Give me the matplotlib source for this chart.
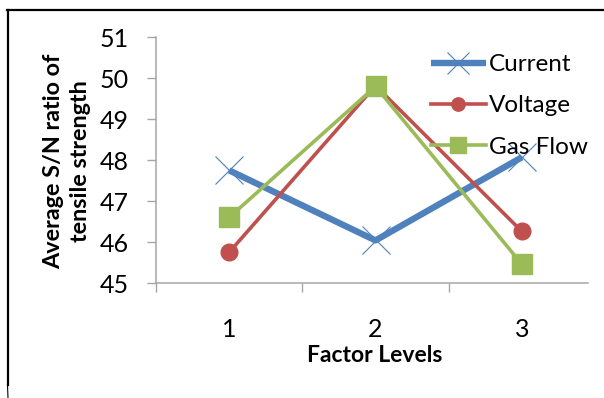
import matplotlib
matplotlib.use("Agg")
import matplotlib.pyplot as plt
from matplotlib.lines import Line2D
from matplotlib.ticker import FixedLocator

plt.rcParams['font.family'] = ['Lato', 'DejaVu Sans']

# Factor levels and average S/N ratios of tensile strength
levels = [1, 2, 3]
level_labels = ['1', '2', '3']
current = [47.75, 46.04, 48.07]
voltage = [45.75, 49.82, 46.26]
gas_flow = [46.60, 49.80, 45.46]
y_ticks = [45, 46, 47, 48, 49, 50, 51]

W, H = 604, 398
fig = plt.figure(figsize=(W / 100, H / 100), dpi=100)
fig.patch.set_facecolor('white')

left, right, top, bottom = 156, 595, 37.3, 283
ax = fig.add_axes([left / W, 1 - bottom / H, (right - left) / W, (bottom - top) / H])

blue, red, green = '#4F81BD', '#C0504D', '#9BBB59'
ax.plot(levels, current, color=blue, lw=4.6, marker='x', ms=20,
        mec=blue, mew=0.8, label='Current', solid_capstyle='butt')
ax.plot(levels, voltage, color=red, lw=2.6, marker='o', ms=12,
        mfc=red, mec=red, label='Voltage')
ax.plot(levels, gas_flow, color=green, lw=2.6, marker='s', ms=14,
        mfc=green, mec=green, label='Gas Flow')

ax.set_xlim(0.5, 3.5)
ax.set_ylim(45, 51)
ax.set_yticks(y_ticks)
ax.set_yticklabels([str(v) for v in y_ticks])
ax.set_xticks(levels)
ax.set_xticklabels(level_labels)
ax.xaxis.set_minor_locator(FixedLocator([0.5, 1.5, 2.5]))

axis_grey = '#A6A6A6'
for side in ('top', 'right'):
    ax.spines[side].set_visible(False)
for side in ('left', 'bottom'):
    ax.spines[side].set_color(axis_grey)
    ax.spines[side].set_linewidth(1.1)
ax.spines['bottom'].set_bounds(0.5, 3.45)

ax.tick_params(axis='y', which='major', length=6.5, width=1.0, color=axis_grey,
               direction='out', pad=13, labelsize=18)
ax.tick_params(axis='x', which='major', length=0, pad=25, labelsize=18)
ax.tick_params(axis='x', which='minor', length=6.5, width=1.0, color=axis_grey,
               direction='out')

fig.text(375 / W, 1 - 355 / H, 'Factor Levels', ha='center', va='center',
         fontsize=16.5, fontweight='bold')
fig.text(67 / W, 1 - 161 / H, 'Average S/N ratio of\ntensile strength',
         ha='center', va='center', rotation=90, fontsize=16.8,
         fontweight='bold', linespacing=1.3)

ax.legend(loc='upper left', bbox_to_anchor=(431 / W, 1 - 54 / H),
          bbox_transform=fig.transFigure, frameon=False, fontsize=17.5,
          handlelength=2.25, handletextpad=0.15, labelspacing=0.84,
          borderpad=0, borderaxespad=0, markerscale=0.8)

# Border around the figure (left and top edges)
fig.add_artist(Line2D([8 / W, 8 / W], [1 - 10 / H, 1 - 385 / H],
                      transform=fig.transFigure, color='black', lw=1.6))
fig.add_artist(Line2D([7.5 / W, 8 / W], [1 - 385 / H, 0],
                      transform=fig.transFigure, color='black', lw=0.8))
fig.add_artist(Line2D([7.5 / W, 1], [1 - 10 / H, 1 - 10 / H],
                      transform=fig.transFigure, color='black', lw=1.6))

fig.savefig('out.png', dpi=100)
